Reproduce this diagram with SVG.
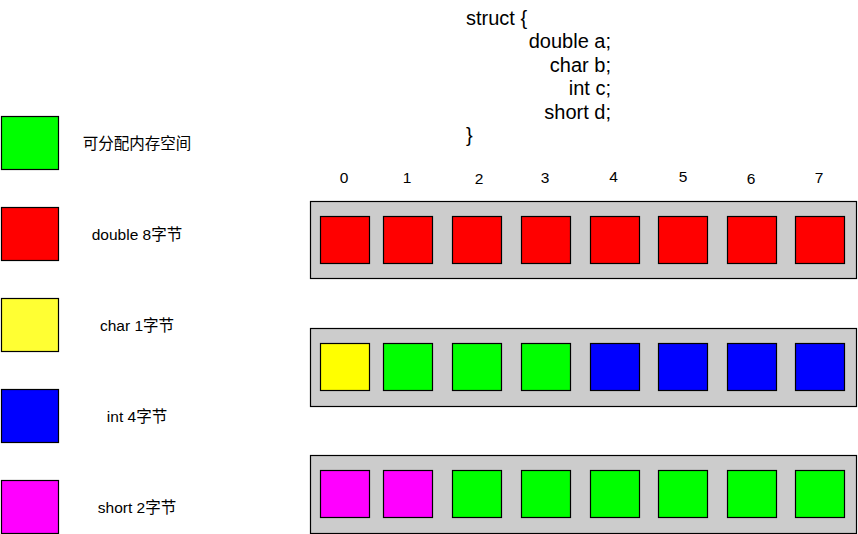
<svg xmlns="http://www.w3.org/2000/svg" width="858" height="534" viewBox="0 0 858 534">
<style>
.b{stroke:#000;stroke-width:1.2}
.box{fill:#CCCCCC}
.g{fill:#00FF00}.r{fill:#FF0000}.y{fill:#FFFF00}.ly{fill:#FFFF33}.bl{fill:#0000FF}.m{fill:#FF00FF}
text{font-family:"Liberation Sans","Noto Sans CJK SC",sans-serif;fill:#000}
.lbl{font-size:15.5px;text-anchor:middle}
.num{font-size:15.5px;text-anchor:middle}
.code{font-size:20px}
.ce{text-anchor:end}
</style>
<rect width="858" height="534" fill="#fff"/>
<g id="legend-free"><rect class="b g" x="1.5" y="116.5" width="57" height="53"/><text class="lbl" x="137" y="148.5">可分配内存空间</text></g>
<g id="legend-double"><rect class="b r" x="1.5" y="207.5" width="57" height="53"/><text class="lbl" x="137" y="239.5">double 8字节</text></g>
<g id="legend-char"><rect class="b ly" x="1.5" y="298.5" width="57" height="53"/><text class="lbl" x="137" y="330.5">char 1字节</text></g>
<g id="legend-int"><rect class="b bl" x="1.5" y="389.5" width="57" height="53"/><text class="lbl" x="137" y="421.5">int 4字节</text></g>
<g id="legend-short"><rect class="b m" x="1.5" y="480.5" width="57" height="53"/><text class="lbl" x="137" y="512.5">short 2字节</text></g>
<g id="code">
<text class="code" x="466" y="25">struct {</text>
<text class="code ce" x="611" y="48">double a;</text>
<text class="code ce" x="611" y="71.5">char b;</text>
<text class="code ce" x="611" y="95">int c;</text>
<text class="code ce" x="611" y="118.5">short d;</text>
<text class="code" x="466" y="142">}</text>
</g>
<g id="indices">
<text class="num" x="344" y="183">0</text>
<text class="num" x="407" y="182.5">1</text>
<text class="num" x="479" y="184">2</text>
<text class="num" x="545" y="182.5">3</text>
<text class="num" x="613.5" y="182">4</text>
<text class="num" x="683" y="182">5</text>
<text class="num" x="751" y="183.5">6</text>
<text class="num" x="819" y="182.5">7</text>
</g>
<g id="row1">
<rect class="b box" x="310.5" y="201.5" width="546" height="77"/>
<rect class="b r" x="320.5" y="216.5" width="49" height="47"/>
<rect class="b r" x="383.5" y="216.5" width="49" height="47"/>
<rect class="b r" x="452.5" y="216.5" width="49" height="47"/>
<rect class="b r" x="521.5" y="216.5" width="49" height="47"/>
<rect class="b r" x="590.5" y="216.5" width="49" height="47"/>
<rect class="b r" x="658.5" y="216.5" width="49" height="47"/>
<rect class="b r" x="727.5" y="216.5" width="49" height="47"/>
<rect class="b r" x="795.5" y="216.5" width="49" height="47"/>
</g>
<g id="row2">
<rect class="b box" x="310.5" y="328.5" width="546" height="78"/>
<rect class="b y" x="320.5" y="343.5" width="49" height="47"/>
<rect class="b g" x="383.5" y="343.5" width="49" height="47"/>
<rect class="b g" x="452.5" y="343.5" width="49" height="47"/>
<rect class="b g" x="521.5" y="343.5" width="49" height="47"/>
<rect class="b bl" x="590.5" y="343.5" width="49" height="47"/>
<rect class="b bl" x="658.5" y="343.5" width="49" height="47"/>
<rect class="b bl" x="727.5" y="343.5" width="49" height="47"/>
<rect class="b bl" x="795.5" y="343.5" width="49" height="47"/>
</g>
<g id="row3">
<rect class="b box" x="310.5" y="455.5" width="546" height="78"/>
<rect class="b m" x="320.5" y="470.5" width="49" height="47"/>
<rect class="b m" x="383.5" y="470.5" width="49" height="47"/>
<rect class="b g" x="452.5" y="470.5" width="49" height="47"/>
<rect class="b g" x="521.5" y="470.5" width="49" height="47"/>
<rect class="b g" x="590.5" y="470.5" width="49" height="47"/>
<rect class="b g" x="658.5" y="470.5" width="49" height="47"/>
<rect class="b g" x="727.5" y="470.5" width="49" height="47"/>
<rect class="b g" x="795.5" y="470.5" width="49" height="47"/>
</g>
<g id="connectors"></g>
</svg>
